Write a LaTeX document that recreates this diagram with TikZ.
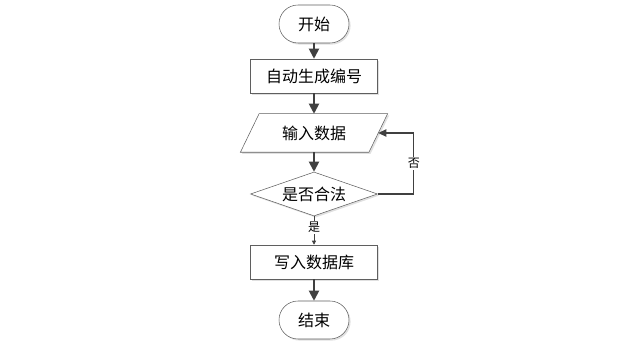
\documentclass[tikz,border=0pt]{standalone}
\usepackage{fontspec}
\newfontfamily\cjk{Noto Sans CJK SC}
\usetikzlibrary{positioning, shapes.geometric, arrows.meta, shadows, backgrounds}
\definecolor{linegray}{RGB}{64,64,64}
\definecolor{edgegray}{RGB}{95,95,95}

\begin{document}
\begin{tikzpicture}[
        on grid,
        font=\cjk\fontsize{12pt}{14pt}\selectfont,
        soft/.style={draw=edgegray, fill=white, inner sep=0pt, drop shadow={shadow xshift=1.2pt, shadow yshift=-1.2pt, fill=black!12, opacity=1}},
        terminal/.style={soft, rectangle, rounded corners=14.25pt, minimum width=52.5pt, minimum height=28.5pt},
        process/.style={soft, rectangle, minimum width=95.25pt, minimum height=25.5pt},
        io/.style={rectangle, inner sep=0pt, minimum width=96pt, minimum height=28.5pt},
        decision/.style={soft, diamond, aspect=2.9, minimum width=95.25pt, minimum height=33pt},
        flow/.style={draw=linegray, line width=1.4pt, -{Triangle[length=7.5pt,width=7.5pt]}},
        back/.style={draw=linegray, line width=0.8pt, -{Triangle[length=6pt,width=5.5pt]}},
        yes/.style={draw=linegray, line width=0.6pt, -{Triangle[length=3pt,width=3pt]}},
        tag/.style={fill=white, inner sep=1pt, font=\cjk\fontsize{9pt}{10pt}\selectfont}
    ]
        \useasboundingbox (0,0) rectangle (465.75pt,-264pt);

        \node[terminal] (start) at (235.5pt,-18pt) {开始};
        \node[process, below=39pt of start] (gen) {自动生成编号};
        \node[io, below=42.75pt of gen] (input) {输入数据};
        \node[decision, below=45.75pt of input] (check) {是否合法};
        \node[process, below=51pt of check] (write) {写入数据库};
        \node[terminal, below=43.5pt of write] (stop) {结束};

        % slanted frame of the input box
        \begin{scope}[on background layer]
            \draw[soft] ([xshift=7pt]input.north west) -- ([xshift=7pt]input.north east)
                -- ([xshift=-7pt]input.south east) -- ([xshift=-7pt]input.south west) -- cycle;
        \end{scope}

        \draw[flow] (start) -- (gen);
        \draw[flow] (gen) -- (input);
        \draw[flow] (input) -- (check);
        \draw[yes] (check) -- node[tag, pos=0.4] {是} (write);
        \draw[flow] (write) -- (stop);

        % back to input when not valid
        \draw[back] (check.east) -- ++(27pt,0) |- node[tag, pos=0.25] {否} (input.east);
    \end{tikzpicture}
\end{document}
